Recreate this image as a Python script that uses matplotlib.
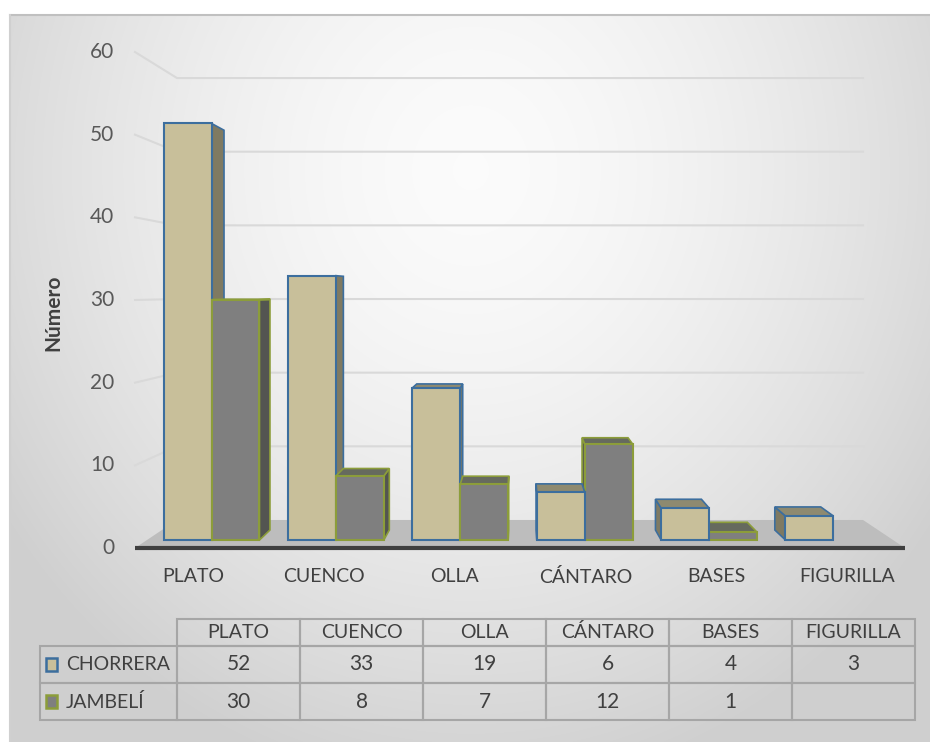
import numpy as np
import matplotlib.pyplot as plt
from matplotlib.patches import Polygon, Rectangle

plt.rcParams['font.family'] = ['Lato', 'DejaVu Sans']

# Datos
categorias = ['PLATO', 'CUENCO', 'OLLA', 'CÁNTARO', 'BASES', 'FIGURILLA']
series = ['CHORRERA', 'JAMBELÍ']
chorrera = [52, 33, 19, 6, 4, 3]
jambeli = [30, 8, 7, 12, 1, None]
ticks_y = [0, 10, 20, 30, 40, 50, 60]

# Colores (frente, lado, tapa, borde)
col_chorrera = ('#c8bf9a', '#7f7a62', '#8e8a70', '#3c6e9e')
col_jambeli = ('#7f7f7f', '#535551', '#666a5e', '#8c9d3a')

W, H = 930, 742
fig = plt.figure(figsize=(W / 100, H / 100), dpi=100)

# fondo degradado del área del gráfico
bg = fig.add_axes([0, 0, 1, 1], zorder=-5)
yy, xx = np.mgrid[0:H, 0:W]
d = np.sqrt(((xx - 470) / 560) ** 2 + ((yy - 170) / 620) ** 2)
g = 0.985 - 0.17 * np.clip(d, 0, 1) ** 1.6
img = np.dstack([g, g, g])
img[:15, :] = 1
img[:, :10] = 1
bg.imshow(img, extent=(0, W, H, 0), aspect='auto', interpolation='bilinear')
bg.plot([10, W], [15, 15], color='#c0c0c0', lw=1.5)
bg.plot([10, 10], [15, H], color='#d0d0d0', lw=1.5)
bg.set_xlim(0, W)
bg.set_ylim(H, 0)
bg.axis('off')

# ejes del gráfico: plano frontal en coordenadas de datos
ax = fig.add_axes([135 / W, (H - 548) / H, 770 / W, 496 / H])
ax.set_xlim(-0.5, 5.5)
ax.set_ylim(0, 60)
ax.axis('off')

VP = (2.5, 31.1)     # punto de fuga
S_FONDO = 0.891      # profundidad de la pared del fondo
S_F, S_B = 0.969, 0.93  # cara frontal y trasera de las barras


def proy(x, v, s):
    return (VP[0] + (x - VP[0]) * s, VP[1] + (v - VP[1]) * s)


def poly(pts, fc, ec='none', lw=0, z=1):
    ax.add_patch(Polygon(pts, closed=True, fc=fc, ec=ec, lw=lw, zorder=z,
                         clip_on=False, joinstyle='miter'))


# piso
poly([proy(-0.5, 0, 1), proy(5.5, 0, 1), proy(5.5, 0, S_FONDO),
      proy(-0.5, 0, S_FONDO)], '#bdbdbd', z=1)
ax.plot(*zip(proy(-0.5, 0, 1), proy(5.5, 0, 1)), color='#3f3f3f', lw=3,
        solid_capstyle='butt', clip_on=False, zorder=2)

# líneas de división
for t in ticks_y[1:]:
    a = proy(-0.5, t, 1)
    b = proy(-0.5, t, S_FONDO)
    c = proy(5.5, t, S_FONDO)
    ax.plot([a[0], b[0], c[0]], [a[1], b[1], c[1]], color='#d9d9d9', lw=1.5,
            clip_on=False, zorder=0)
for t in ticks_y:
    ax.text(-0.66, t, str(t), ha='right', va='center', fontsize=15,
            color='#595959')

# etiquetas de categoría
for i, c in enumerate(categorias):
    ax.text(VP[0] + (i - VP[0]) * 1.02, -3.5, c, ha='center', va='center',
            fontsize=14, color='#404040', clip_on=False)

fig.text(53 / W, 1 - 313 / H, 'Número', rotation=90, ha='center',
         va='center', fontsize=15, fontweight='bold', color='#404040')

# barras en perspectiva
barras = []
for i in range(len(categorias)):
    barras.append((i - 0.365, i + 0.02, chorrera[i], col_chorrera))
    if jambeli[i] is not None:
        barras.append((i + 0.02, i + 0.405, jambeli[i], col_jambeli))
barras.sort(key=lambda b: -abs((b[0] + b[1]) / 2 - VP[0]))

for k, (x0, x1, v, (cf, cl, ct, ce)) in enumerate(barras):
    z = 3 + k * 0.1
    if x1 < VP[0]:
        poly([proy(x1, 0, S_F), proy(x1, v, S_F), proy(x1, v, S_B),
              proy(x1, 0, S_B)], cl, ce, 1.2, z)
    elif x0 > VP[0]:
        poly([proy(x0, 0, S_F), proy(x0, v, S_F), proy(x0, v, S_B),
              proy(x0, 0, S_B)], cl, ce, 1.2, z)
    if v < VP[1]:
        poly([proy(x0, v, S_F), proy(x1, v, S_F), proy(x1, v, S_B),
              proy(x0, v, S_B)], ct, ce, 1.2, z + 0.01)
    poly([proy(x0, 0, S_F), proy(x1, 0, S_F), proy(x1, v, S_F),
          proy(x0, v, S_F)], cf, ce, 1.5, z + 0.02)

# tabla de datos
tax = fig.add_axes([40 / W, (H - 720) / H, 875 / W, 101 / H])
tax.axis('off')
filas = [[series[0]] + [str(v) for v in chorrera],
         [series[1]] + ['' if v is None else str(v) for v in jambeli]]
tb = tax.table(cellText=filas, colLabels=[''] + categorias,
               colWidths=[137 / 875] + [123 / 875] * 6,
               cellLoc='center', colLoc='center', bbox=[0, 0, 1, 1])
tb.auto_set_font_size(False)
tb.set_fontsize(14)
for (r, c), cell in tb.get_celld().items():
    cell.set_edgecolor('#a6a6a6')
    cell.set_linewidth(1.5)
    cell.set_facecolor('none')
    cell.get_text().set_color('#404040')
    cell.set_height(27 / 101 if r == 0 else 37 / 101)
    if r > 0 and c > 0:
        cell.get_text().set_fontsize(15)
    if c == 0:
        if r == 0:
            cell.visible_edges = ''
        else:
            cell.get_text().set_horizontalalignment('left')
            cell.PAD = 0.19

# claves de la leyenda
for j, cols in enumerate([col_chorrera, col_jambeli]):
    yc = (720 - (664.5 + 37 * j)) / 101
    tax.add_patch(Rectangle((6 / 875, yc - 6.5 / 101), 11 / 875, 13 / 101,
                            fc=cols[0], ec=cols[3], lw=1.8,
                            transform=tax.transAxes, clip_on=False, zorder=5))

fig.savefig('out.png', dpi=100)
